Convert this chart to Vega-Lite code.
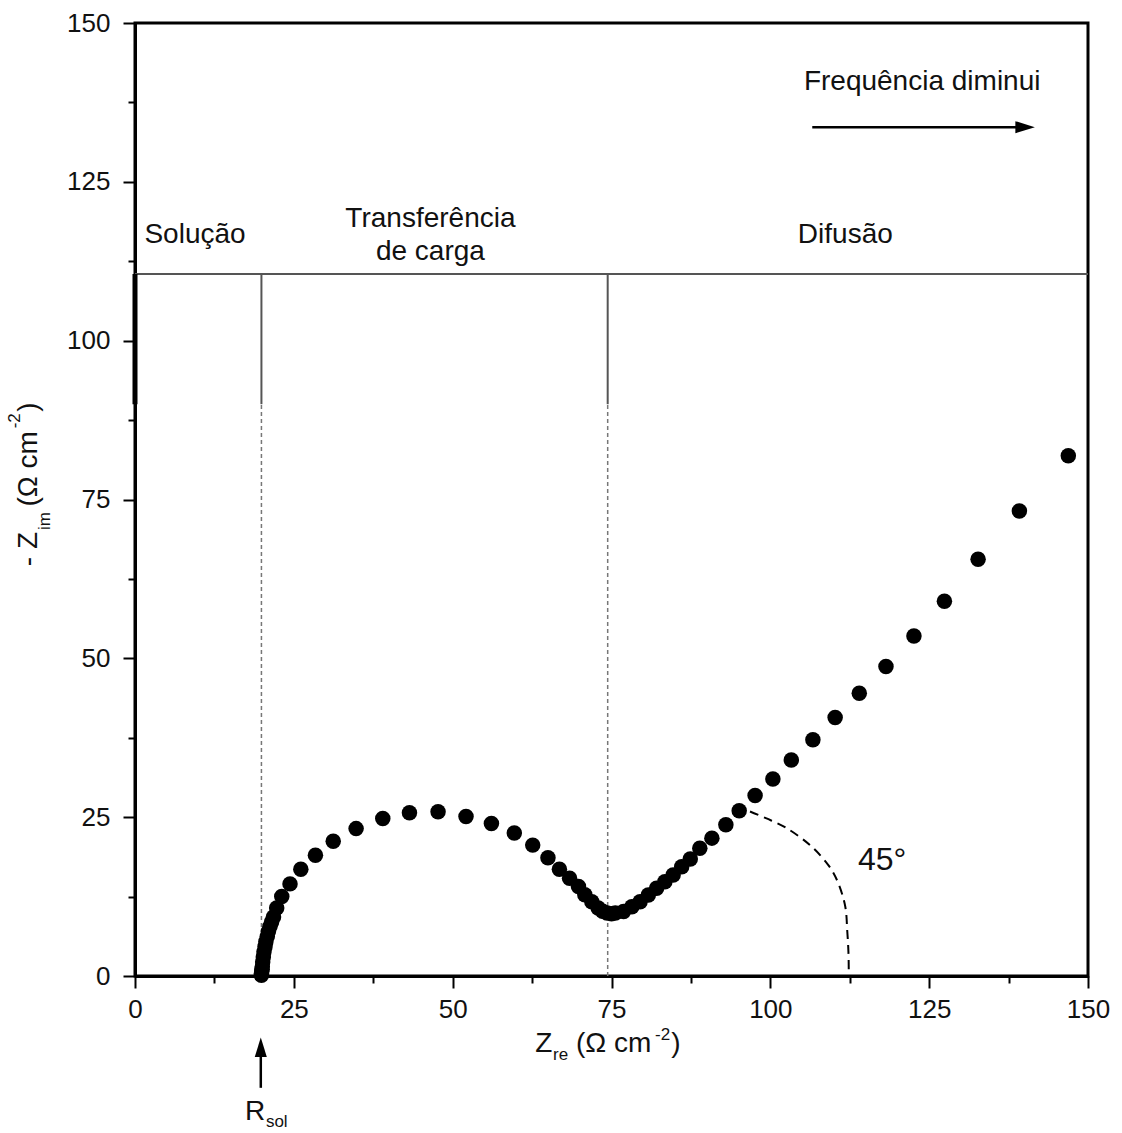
{
  "$schema": "https://vega.github.io/schema/vega-lite/v6.json",
  "width": 953,
  "height": 953,
  "autosize": {"type": "none"},
  "padding": {"left": 135, "top": 23, "right": 34, "bottom": 157},
  "background": "white",
  "config": {
    "view": {"stroke": "#000", "strokeWidth": 3},
    "font": "Liberation Sans",
    "text": {"font": "Liberation Sans", "color": "#111"}
  },
  "datasets": {
    "pts": [
      {"x": 19.9, "y": 0.1}, {"x": 19.9, "y": 0.35}, {"x": 19.95, "y": 0.7}, {"x": 20.0, "y": 1.05},
      {"x": 20.04, "y": 1.46}, {"x": 20.1, "y": 2.2}, {"x": 20.2, "y": 3.0}, {"x": 20.3, "y": 3.8},
      {"x": 20.46, "y": 4.6}, {"x": 20.6, "y": 5.4}, {"x": 20.82, "y": 6.2}, {"x": 21.0, "y": 7.0},
      {"x": 21.25, "y": 7.8}, {"x": 21.5, "y": 8.5}, {"x": 21.8, "y": 9.3}, {"x": 22.3, "y": 10.7},
      {"x": 23.1, "y": 12.5}, {"x": 24.4, "y": 14.5}, {"x": 26.1, "y": 16.8}, {"x": 28.4, "y": 19.0},
      {"x": 31.2, "y": 21.2}, {"x": 34.8, "y": 23.2}, {"x": 39.0, "y": 24.8}, {"x": 43.2, "y": 25.7},
      {"x": 47.7, "y": 25.85}, {"x": 52.1, "y": 25.1}, {"x": 56.1, "y": 24.0}, {"x": 59.7, "y": 22.5},
      {"x": 62.6, "y": 20.6}, {"x": 65.0, "y": 18.6}, {"x": 66.8, "y": 16.8}, {"x": 68.4, "y": 15.4},
      {"x": 69.8, "y": 14.1}, {"x": 70.8, "y": 12.8}, {"x": 71.9, "y": 11.7}, {"x": 72.9, "y": 10.7},
      {"x": 73.6, "y": 10.2}, {"x": 74.3, "y": 9.9}, {"x": 75.0, "y": 9.8}, {"x": 75.6, "y": 9.9},
      {"x": 76.9, "y": 10.15}, {"x": 78.2, "y": 10.9}, {"x": 79.5, "y": 11.7}, {"x": 80.8, "y": 12.75},
      {"x": 82.1, "y": 13.8}, {"x": 83.4, "y": 14.85}, {"x": 84.7, "y": 15.9}, {"x": 86.05, "y": 17.2},
      {"x": 87.4, "y": 18.4}, {"x": 88.9, "y": 20.1}, {"x": 90.8, "y": 21.7}, {"x": 93.0, "y": 23.8},
      {"x": 95.1, "y": 26.0}, {"x": 97.6, "y": 28.4}, {"x": 100.4, "y": 31.0}, {"x": 103.3, "y": 34.0},
      {"x": 106.7, "y": 37.2}, {"x": 110.2, "y": 40.7}, {"x": 114.0, "y": 44.5}, {"x": 118.2, "y": 48.7},
      {"x": 122.6, "y": 53.5}, {"x": 127.4, "y": 59.0}, {"x": 132.7, "y": 65.6}, {"x": 139.2, "y": 73.2},
      {"x": 146.9, "y": 81.9}
    ],
    "arc": [
      {"i": 0, "x": 96.8, "y": 25.9}, {"i": 1, "x": 99.4, "y": 24.8}, {"i": 2, "x": 102.6, "y": 23.25},
      {"i": 3, "x": 106.25, "y": 20.6}, {"i": 4, "x": 109.1, "y": 17.5}, {"i": 5, "x": 110.7, "y": 14.6},
      {"i": 6, "x": 111.8, "y": 10.9}, {"i": 7, "x": 112.1, "y": 7.2}, {"i": 8, "x": 112.3, "y": 3.6},
      {"i": 9, "x": 112.35, "y": 0.0}
    ],
    "solid": [
      {"x": 0, "x2": 150, "y": 110.5, "y2": 110.5},
      {"x": 19.9, "x2": 19.9, "y": 90, "y2": 110.5},
      {"x": 74.4, "x2": 74.4, "y": 90, "y2": 110.5}
    ],
    "edge": [
      {"x": 0, "x2": 0, "y": 90, "y2": 110.5}
    ],
    "dashed": [
      {"x": 19.9, "x2": 19.9, "y": 0, "y2": 90},
      {"x": 74.4, "x2": 74.4, "y": 0, "y2": 90}
    ],
    "arrows": [
      {"x": 106.6, "x2": 139.0, "y": 133.6, "y2": 133.6},
      {"x": 19.8, "x2": 19.8, "y": -17.6, "y2": -12.5}
    ],
    "headR": [{"x": 140.1, "y": 133.6}],
    "headU": [{"x": 19.8, "y": -11.2}],
    "ann": [
      {"x": 9.45, "y": 115.4, "t": "Solução"},
      {"x": 46.5, "y": 117.9, "t": "Transferência"},
      {"x": 46.5, "y": 112.7, "t": "de carga"},
      {"x": 111.8, "y": 115.4, "t": "Difusão"},
      {"x": 123.9, "y": 139.4, "t": "Frequência diminui"}
    ],
    "deg": [{"x": 117.6, "y": 16.7, "t": "45°"}],
    "title": [
      {"x": 63.0, "y": -11.96, "t": "Z"},
      {"x": 69.4, "y": -11.96, "t": "(Ω cm"},
      {"x": 84.4, "y": -11.96, "t": ")"},
      {"x": 17.3, "y": -22.7, "t": "R"}
    ],
    "sub": [
      {"x": 65.8, "y": -13.2, "t": "re"},
      {"x": 81.85, "y": -10.1, "t": "-2"},
      {"x": 20.6, "y": -23.8, "t": "sol"}
    ],
    "ytitle": [
      {"x": -15.4, "y": 64.5, "t": "- Z"},
      {"x": -15.4, "y": 73.9, "t": "(Ω cm"},
      {"x": -15.4, "y": 88.8, "t": ")"}
    ],
    "ysub": [
      {"x": -13.4, "y": 70.2, "t": "im"},
      {"x": -18.1, "y": 86.2, "t": "-2"}
    ]
  },
  "encoding": {
    "x": {
      "field": "x", "type": "quantitative",
      "scale": {"domain": [0, 150], "nice": false, "zero": false},
      "axis": {
        "values": [0, 12.5, 25, 37.5, 50, 62.5, 75, 87.5, 100, 112.5, 125, 137.5, 150],
        "labelExpr": "datum.value % 25 === 0 ? datum.label : ''",
        "tickSize": {"condition": {"test": "datum.value % 25 === 0", "value": 12}, "value": 7},
        "tickWidth": 2, "tickColor": "#000", "domainColor": "#000", "domainWidth": 3,
        "labelFont": "Liberation Sans", "labelFontSize": 26, "labelColor": "#111", "labelPadding": 8,
        "labelOverlap": false, "labelFlush": false, "grid": false, "title": null
      }
    },
    "y": {
      "field": "y", "type": "quantitative",
      "scale": {"domain": [0, 150], "nice": false, "zero": false},
      "axis": {
        "values": [0, 12.5, 25, 37.5, 50, 62.5, 75, 87.5, 100, 112.5, 125, 137.5, 150],
        "labelExpr": "datum.value % 25 === 0 ? datum.label : ''",
        "tickSize": {"condition": {"test": "datum.value % 25 === 0", "value": 12}, "value": 7},
        "tickWidth": 2, "tickColor": "#000", "domainColor": "#000", "domainWidth": 3,
        "labelFont": "Liberation Sans", "labelFontSize": 26, "labelColor": "#111", "labelPadding": 13,
        "labelOverlap": false, "labelFlush": false, "grid": false, "title": null
      }
    }
  },
  "layer": [
    {
      "data": {"name": "solid"},
      "mark": {"type": "rule", "color": "#555", "strokeWidth": 2},
      "encoding": {"x2": {"field": "x2"}, "y2": {"field": "y2"}}
    },
    {
      "data": {"name": "edge"},
      "mark": {"type": "rule", "color": "#000", "strokeWidth": 5},
      "encoding": {"x2": {"field": "x2"}, "y2": {"field": "y2"}}
    },
    {
      "data": {"name": "dashed"},
      "mark": {"type": "rule", "color": "#777", "strokeWidth": 1.5, "strokeDash": [4, 3]},
      "encoding": {"x2": {"field": "x2"}, "y2": {"field": "y2"}}
    },
    {
      "data": {"name": "arc"},
      "mark": {"type": "line", "color": "#000", "strokeWidth": 2, "strokeDash": [9, 6], "interpolate": "cardinal"},
      "encoding": {"order": {"field": "i", "type": "quantitative"}}
    },
    {
      "data": {"name": "pts"},
      "mark": {"type": "point", "filled": true, "shape": "circle", "size": 240, "color": "#000", "opacity": 1}
    },
    {
      "data": {"name": "arrows"},
      "mark": {"type": "rule", "color": "#000", "strokeWidth": 2.5},
      "encoding": {"x2": {"field": "x2"}, "y2": {"field": "y2"}}
    },
    {
      "data": {"name": "headR"},
      "mark": {"type": "point", "filled": true, "shape": "M-1,-0.62L1,0L-1,0.62Z", "size": 380, "color": "#000", "opacity": 1}
    },
    {
      "data": {"name": "headU"},
      "mark": {"type": "point", "filled": true, "shape": "M-0.62,1L0,-1L0.62,1Z", "size": 380, "color": "#000", "opacity": 1}
    },
    {
      "data": {"name": "ann"},
      "mark": {"type": "text", "fontSize": 28, "align": "center", "baseline": "alphabetic"},
      "encoding": {"text": {"field": "t"}}
    },
    {
      "data": {"name": "deg"},
      "mark": {"type": "text", "fontSize": 32, "align": "center", "baseline": "alphabetic"},
      "encoding": {"text": {"field": "t"}}
    },
    {
      "data": {"name": "title"},
      "mark": {"type": "text", "fontSize": 28, "align": "left", "baseline": "alphabetic"},
      "encoding": {"text": {"field": "t"}}
    },
    {
      "data": {"name": "sub"},
      "mark": {"type": "text", "fontSize": 17, "align": "left", "baseline": "alphabetic"},
      "encoding": {"text": {"field": "t"}}
    },
    {
      "data": {"name": "ytitle"},
      "mark": {"type": "text", "fontSize": 28, "align": "left", "baseline": "alphabetic", "angle": 270},
      "encoding": {"text": {"field": "t"}}
    },
    {
      "data": {"name": "ysub"},
      "mark": {"type": "text", "fontSize": 17, "align": "left", "baseline": "alphabetic", "angle": 270},
      "encoding": {"text": {"field": "t"}}
    }
  ]
}
